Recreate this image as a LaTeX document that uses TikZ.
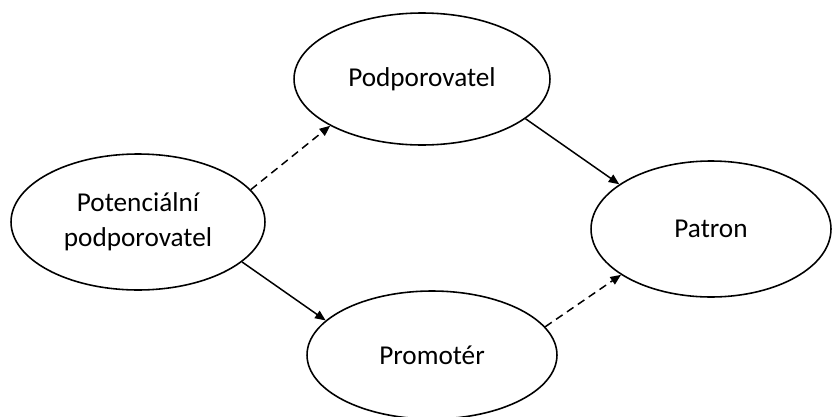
\documentclass[tikz,border=0pt]{standalone}
\usepackage{fontspec}
\setmainfont{Carlito}
\usetikzlibrary{shapes.geometric, arrows.meta}

\begin{document}
\begin{tikzpicture}[x=0.02cm, y=-0.02cm]

% Define styles
\tikzstyle{stage}=[draw, ellipse, line width=0.9pt, inner sep=0pt, align=center,
  font=\fontsize{15.5}{19.8}\selectfont]
\tikzstyle{link}=[line width=0.85pt, -{Triangle[length=6pt, width=5pt]}]
\tikzstyle{maybe}=[link, dash pattern=on 4.5pt off 3pt]

% Canvas
\useasboundingbox (0,0) rectangle (838,416);

% Stages
\node[stage, minimum width=5.12cm, minimum height=2.64cm] (pod) at (422,79) {Podporovatel};
\node[stage, minimum width=5.08cm, minimum height=2.72cm] (pot) at (138,222) {Potenciální\\podporovatel};
\node[stage, minimum width=4.80cm, minimum height=2.72cm] (pat) at (711,229) {Patron};
\node[stage, minimum width=5.00cm, minimum height=2.56cm] (pro) at (432,355) {Promotér};

% Transitions
\draw[maybe] (pot.16) -- (pod.207);
\draw[link] (pod.339) -- (pat.154);
\draw[link] (pot.339) -- (pro.162);
\draw[maybe] (pro.14) -- (pat.207);

\end{tikzpicture}
\end{document}
